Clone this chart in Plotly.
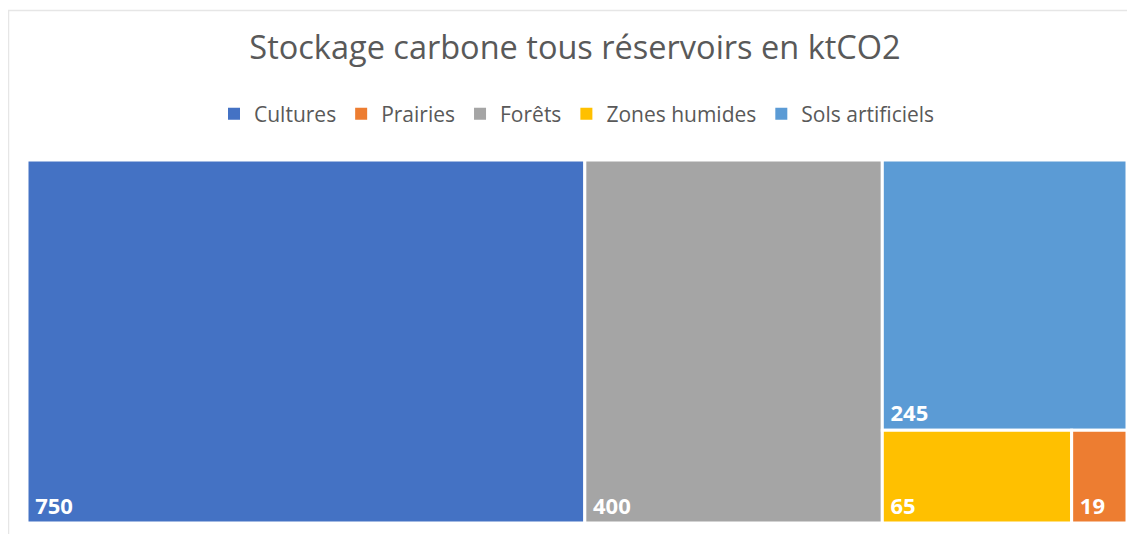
import plotly.graph_objects as go

labels = ["Cultures", "Prairies", "Forêts", "Zones humides", "Sols artificiels"]
values = [750, 19, 400, 65, 245]
colors = ["#4472C4", "#ED7D31", "#A5A5A5", "#FFC000", "#5B9BD5"]
title_text = "Stockage carbone tous réservoirs en ktCO2"

OFF = 8  # default page body margin
W, H = 1135 - OFF, 534 - OFF
# treemap box in page pixels -> figure pixels
bx0, bx1, by0, by1 = 27 - OFF, 1127 - OFF, 160 - OFF, 523 - OFF

fig = go.Figure()
fig.add_trace(go.Treemap(
    labels=labels,
    parents=[""] * len(labels),
    values=values,
    domain=dict(x=[bx0 / W, bx1 / W], y=[1 - by1 / H, 1 - by0 / H]),
    marker=dict(colors=colors, line=dict(color="white", width=3),
                pad=dict(t=0, l=0, r=0, b=0)),
    texttemplate="<span style='font-size:10px'>&nbsp;&nbsp;</span>%{value}",
    textposition="bottom left",
    textfont=dict(family="Open Sans", size=22, color="white", weight="bold"),
    pathbar=dict(visible=False),
    hoverinfo="skip",
    tiling=dict(packing="squarify", pad=0),
    sort=True,
))

for lab, col in zip(labels, colors):
    fig.add_trace(go.Scatter(
        x=[None], y=[None], mode="markers", name=lab,
        marker=dict(symbol="square", size=12, color=col),
        hoverinfo="skip", showlegend=True,
    ))

# light outer frame
fig.add_shape(type="rect", xref="paper", yref="paper",
              x0=(8 - OFF) / W + 0.5 / W, x1=(W + 10) / W,
              y0=-10 / H, y1=1 - (10 - OFF) / H - 0.5 / H,
              line=dict(color="#e6e6e6", width=1.5), fillcolor="rgba(0,0,0,0)",
              layer="below")

fig.update_layout(
    width=W, height=H,
    margin=dict(l=0, r=0, t=0, b=0, autoexpand=False),
    paper_bgcolor="white", plot_bgcolor="white",
    showlegend=True,
    title=dict(text=title_text, x=(575 - OFF) / W, xanchor="center", y=1 - (48 - OFF) / H, yanchor="middle",
               font=dict(family="Open Sans", size=32.5, color="#595959")),
    legend=dict(orientation="h", x=(577 - OFF) / W, xanchor="center", y=1 - (114 - OFF) / H, yanchor="middle",
                font=dict(family="Open Sans", size=21, color="#595959"),
                itemwidth=30, tracegroupgap=0),
    xaxis=dict(visible=False, domain=[0, 1]), yaxis=dict(visible=False, domain=[0, 1]),
)

fig.write_html("out.html")
